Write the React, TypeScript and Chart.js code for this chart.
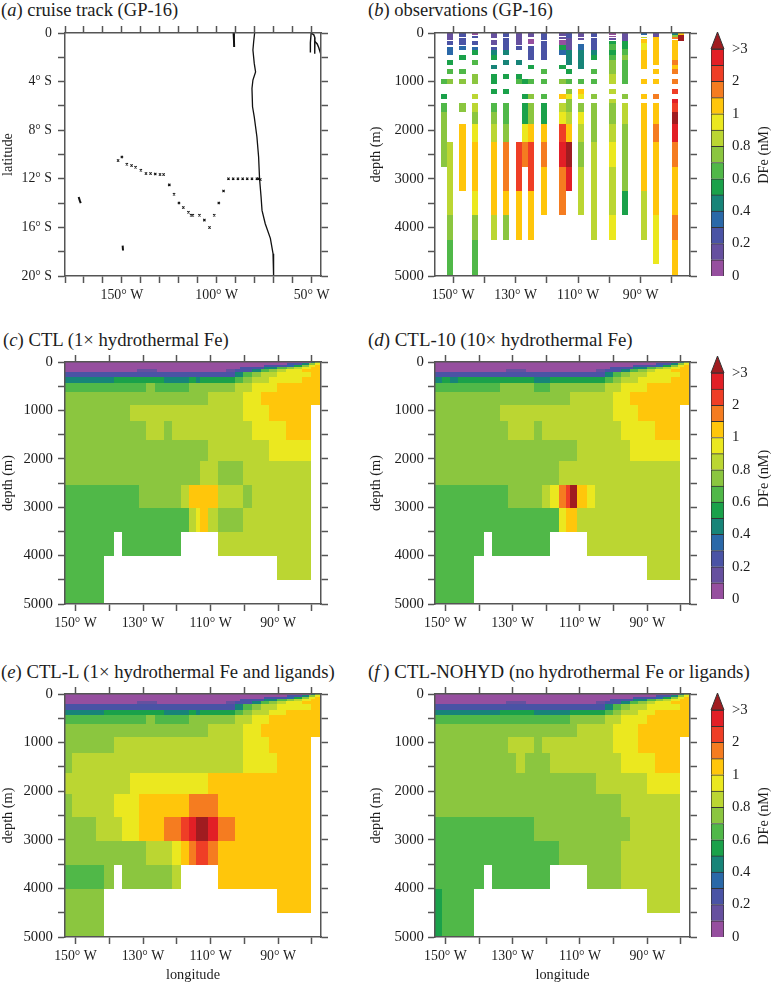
import React, { useEffect, useRef } from "react";
import { Chart, registerables } from "chart.js";

Chart.register(...registerables);

const FONT = "'Liberation Serif', serif";
const AXIS = "#555555";
const INK = "#1c1c1c";

// ---------- colour key ----------
const levelColors = [
  "#964f9f", "#66509f", "#4a53a5", "#2a68a8", "#178478", "#1aa14a", "#50b848", "#8bc63f",
  "#bbd632", "#ebe81f", "#ffc60b", "#f57c20", "#ef3e26", "#e21f26", "#a01c20",
];
const keyTickBands = [0, 2, 4, 6, 8, 10, 12, 14];
const keyTickLabels = ["0", "0.2", "0.4", "0.6", "0.8", "1", "2", ">3"];

// ---------- panel a: cruise track ----------
const stationLon = [152, 150, 147.4, 144.9, 142.8, 140, 137.3, 134.9, 132.4, 129.9, 128, 125, 122.5, 119.9, 117.6, 114.9, 113.5, 112.6, 109.1, 106.5, 103.8, 101.3, 98.9, 96.4, 93.8, 91.3, 88.8, 86.3, 83.9, 81.4, 78.8, 77.9, 77];
const stationLat = [10.5, 10.2, 10.8, 10.9, 11.05, 11.3, 11.57, 11.57, 11.6, 11.65, 11.65, 12.5, 13.27, 14, 14.37, 14.75, 15, 15, 15, 15.4, 16, 15, 14, 13, 12, 12, 12, 12, 12, 12, 12, 12, 12.05];
const coastLon = [80, 80.5, 80.9, 80.2, 79.5, 80.9, 81.4, 81.1, 80.2, 78.8, 77.9, 77.4, 76.6, 76.1, 74.4, 71.7, 70.3, 70];
const coastLat = [0, 0.7, 1.4, 2.5, 3.2, 3.87, 4.56, 6.07, 6.9, 8.54, 10.2, 12, 13.5, 14.6, 15.7, 16.9, 18.16, 20];
const islandTracks = [
  [[91.1, 0], [90.9, 0.6], [90.8, 1.15]],
  [[172.8, 13.5], [172.2, 13.8], [171.7, 14]],
  [[149.6, 17.5], [149.4, 17.9]],
  [[50.2, 0], [50.6, 0.8], [50.6, 1.6]],
  [[50.2, 0], [48.8, 0.15], [48.2, 0.4], [48.3, 1.7]],
  [[48.2, 0.7], [47, 0.9], [46.2, 1.2], [45, 1.8]],
];

// ---------- model panels: runs of [west-to-east end longitude, level]; -1 is sea floor ----------
const modelDepthEdges = [0, 30, 60, 100, 150, 210, 320, 430, 620, 880, 1220, 1620, 2050, 2535, 3015, 3510, 4010, 4510, 5000];
const surfaceRuns = [
  [[80.3, 0], [79, 4], [77.3, 7]],
  [[87.4, 0], [82.9, 2], [81, 4], [79, 7], [77.3, 9]],
  [[94.3, 0], [87.4, 2], [85.3, 3], [82.9, 5], [81, 7], [79, 9], [77.3, 10]],
  [[101.2, 0], [94.3, 2], [90.2, 4], [87.4, 6], [85.3, 7], [82.9, 8], [80.3, 9], [77.3, 10]],
  [[131.9, 0], [126, 1], [105.3, 0], [102.7, 1], [97.8, 2], [95.2, 4], [92.7, 6], [90.2, 7], [87.7, 8], [82.9, 9], [77.3, 10]],
  [[102.7, 2], [100.3, 4], [97.8, 6], [95.2, 7], [90.2, 8], [80.3, 9], [77.3, 10]],
];
const ctlRuns = [
  [[138.5, 4], [123.8, 5], [116.3, 4], [114.3, 5], [113.1, 4], [102.7, 5], [100.3, 6], [97.8, 7], [92.7, 8], [82.9, 9], [77.3, 10]],
  [[129.2, 6], [126.5, 7], [116.3, 6], [102.7, 7], [97.8, 8], [90.2, 9], [77.3, 10]],
  [[110.9, 7], [100.3, 8], [95.2, 9], [77.3, 10]],
  [[133.8, 7], [100.3, 8], [92.7, 9], [80.3, 10], [77.3, -1]],
  [[129.2, 7], [123.8, 8], [121.3, 7], [97.8, 8], [87.7, 9], [80.3, 10], [77.3, -1]],
  [[110.9, 7], [92.7, 8], [80.3, 9], [77.3, -1]],
  [[113.1, 7], [107.9, 8], [100.3, 7], [80.3, 8], [77.3, -1]],
  [[131.3, 6], [118.8, 7], [116.3, 8], [107.9, 10], [100.3, 8], [97.8, 7], [80.3, 8], [77.3, -1]],
  [[116.3, 6], [114.3, 8], [113.1, 9], [110.9, 10], [107.9, 8], [100.3, 7], [80.3, 8], [77.3, -1]],
  [[138.5, 6], [136.1, -1], [118.8, 6], [107.9, -1], [80.3, 8], [77.3, -1]],
  [[141.5, 6], [90.2, -1], [80.3, 8], [77.3, -1]],
  [[141.5, 6], [77.3, -1]],
];
const ctl10Runs = [
  [[151.1, 4], [148.6, 5], [146.2, 4], [123.8, 5], [119, 4], [102.7, 5], [100.3, 6], [97.8, 7], [92.7, 8], [82.9, 9], [77.3, 10]],
  [[133.8, 6], [123.8, 7], [118.8, 6], [102.7, 7], [97.8, 8], [90.2, 9], [77.3, 10]],
  [[113.1, 7], [100.3, 8], [95.2, 9], [77.3, 10]],
  [[133.8, 7], [100.3, 8], [92.7, 9], [80.3, 10], [77.3, -1]],
  [[131.3, 7], [123.8, 8], [121.3, 7], [97.8, 8], [87.7, 9], [80.3, 10], [77.3, -1]],
  [[110.9, 7], [95.2, 8], [80.3, 9], [77.3, -1]],
  [[116.3, 7], [80.3, 8], [77.3, -1]],
  [[131.3, 6], [121.2, 7], [118.8, 8], [116.3, 9], [114.2, 11], [113, 12], [111, 14], [107.9, 10], [105.4, 9], [80.3, 8], [77.3, -1]],
  [[116.3, 6], [114.3, 9], [110.9, 10], [80.3, 8], [77.3, -1]],
  [[138.5, 6], [136.1, -1], [118.8, 6], [107.9, -1], [80.3, 8], [77.3, -1]],
  [[141.5, 6], [90.2, -1], [80.3, 8], [77.3, -1]],
  [[141.5, 6], [77.3, -1]],
];
const ctlLRuns = [
  [[141.5, 4], [123.8, 5], [116.3, 4], [114.3, 5], [113.1, 4], [102.7, 5], [100.3, 6], [97.8, 7], [92.7, 8], [87.7, 9], [77.3, 10]],
  [[129.2, 6], [126.5, 7], [116.3, 6], [102.7, 7], [97.8, 8], [92.7, 9], [77.3, 10]],
  [[110.9, 7], [100.3, 8], [95.2, 9], [77.3, 10]],
  [[138.5, 7], [100.3, 8], [92.7, 9], [80.3, 10], [77.3, -1]],
  [[151.1, 7], [100.3, 8], [90.2, 9], [80.3, 10], [77.3, -1]],
  [[133.8, 8], [110.9, 9], [80.3, 10], [77.3, -1]],
  [[151.1, 7], [138.5, 8], [131.3, 9], [116.3, 10], [107.9, 11], [80.3, 10], [77.3, -1]],
  [[144, 7], [136.1, 8], [131.3, 9], [123.8, 10], [118.8, 11], [116.3, 12], [114.3, 13], [110.9, 14], [107.9, 13], [102.7, 11], [80.3, 10], [77.3, -1]],
  [[129.2, 7], [121.3, 8], [118.8, 9], [116.3, 10], [114.3, 11], [110.9, 12], [107.9, 11], [80.3, 10], [77.3, -1]],
  [[141.5, 6], [138.5, 7], [136.1, -1], [121.3, 7], [118.8, 8], [107.9, -1], [80.3, 10], [77.3, -1]],
  [[141.5, 7], [90.2, -1], [80.3, 10], [77.3, -1]],
  [[141.5, 7], [77.3, -1]],
];
const nohydRuns = [
  [[133.8, 4], [123.8, 5], [113.1, 4], [102.7, 5], [100.3, 6], [97.8, 7], [92.7, 8], [87.7, 9], [77.3, 10]],
  [[113.1, 6], [102.7, 7], [97.8, 8], [90.2, 9], [77.3, 10]],
  [[110.9, 7], [100.3, 8], [92.7, 9], [77.3, 10]],
  [[131.3, 7], [123.8, 8], [121.3, 7], [100.3, 8], [92.7, 9], [80.3, 10], [77.3, -1]],
  [[128.9, 7], [126.4, 8], [118.8, 7], [97.8, 8], [87.7, 9], [80.3, 10], [77.3, -1]],
  [[105.3, 7], [90.2, 8], [80.3, 9], [77.3, -1]],
  [[97.8, 7], [80.3, 8], [77.3, -1]],
  [[123.8, 6], [95.2, 7], [80.3, 8], [77.3, -1]],
  [[116.3, 6], [97.8, 7], [80.3, 8], [77.3, -1]],
  [[138.5, 6], [136.1, -1], [118.8, 6], [107.9, -1], [97.8, 7], [80.3, 8], [77.3, -1]],
  [[151.1, 5], [141.5, 6], [90.2, -1], [80.3, 8], [77.3, -1]],
  [[151.1, 5], [141.5, 6], [77.3, -1]],
];

// ---------- panel b: observed bottles, segments of [top, bottom, level] per 2-degree station ----------
const obsLon = [153, 151, 147, 143, 137, 133, 129, 127, 125, 121, 115, 113, 109, 105, 99, 95, 89, 85, 79, 77];
const obsSegments = [
  [[950, 1050, 6], [1250, 1350, 5], [1450, 1625, 6], [1625, 2750, 7]],
  [[10, 145, 1], [170, 240, 2], [280, 450, 3], [550, 650, 5], [750, 850, 6], [950, 1050, 7], [2250, 3750, 8], [3750, 4250, 7], [4250, 5000, 6]],
  [[10, 90, 2], [110, 240, 2], [270, 350, 3], [450, 550, 5], [750, 850, 6], [950, 1050, 7], [1450, 1625, 7], [1875, 3250, 10]],
  [[10, 40, 0], [60, 100, 2], [160, 240, 2], [280, 350, 3], [350, 450, 5], [550, 650, 6], [850, 1050, 7], [1250, 1350, 8], [1450, 1625, 8], [1625, 1875, 7], [1875, 2250, 9], [2250, 3250, 10], [3250, 3750, 9], [3750, 4250, 7], [4250, 5000, 6]],
  [[10, 100, 1], [140, 240, 1], [280, 350, 2], [350, 450, 4], [450, 550, 5], [650, 750, 4], [850, 1050, 5], [1150, 1250, 5], [1450, 1625, 6], [1625, 1875, 7], [1875, 2250, 8], [2250, 3750, 10], [3750, 4250, 8]],
  [[10, 90, 2], [110, 350, 2], [350, 450, 4], [550, 650, 4], [850, 950, 5], [1150, 1250, 5], [1450, 1875, 6], [1875, 2250, 7], [2250, 3250, 11], [3250, 3750, 10], [3750, 4250, 7]],
  [[10, 145, 1], [145, 240, 1], [270, 350, 2], [550, 650, 4], [850, 950, 5], [950, 1050, 6], [2250, 3250, 12], [3250, 4250, 10]],
  [[950, 1050, 5], [1250, 1350, 5], [1450, 1875, 5], [1875, 2250, 9], [2250, 2750, 11]],
  [[10, 75, 1], [130, 225, 0], [270, 550, 2], [650, 750, 5], [950, 1050, 6], [1250, 1350, 7], [1450, 1875, 7], [1875, 2250, 10], [2250, 3250, 12], [3250, 4250, 10]],
  [[10, 145, 2], [170, 550, 2], [750, 850, 6], [950, 1050, 6], [1250, 1350, 6], [1450, 1875, 5], [1875, 2250, 10], [2250, 2750, 11], [2750, 3750, 10]],
  [[10, 60, 1], [75, 130, 1], [145, 240, 0], [240, 350, 5], [350, 450, 3], [650, 750, 5], [950, 1050, 7], [1250, 1350, 10], [1450, 1625, 8], [1625, 1875, 9], [1875, 2250, 12], [2250, 2750, 13], [2750, 3750, 11]],
  [[10, 100, 2], [100, 350, 1], [350, 450, 4], [450, 650, 4], [750, 850, 5], [950, 1050, 6], [1150, 1250, 7], [1250, 1350, 9], [1350, 1625, 7], [1625, 1875, 8], [1875, 2250, 10], [2250, 2750, 14], [2750, 3250, 13]],
  [[10, 90, 1], [110, 145, 1], [225, 350, 3], [350, 750, 4], [950, 1050, 6], [1150, 1250, 10], [1250, 1350, 9], [1450, 1625, 7], [1625, 1875, 9], [1875, 2250, 8], [2250, 2750, 7], [2750, 3750, 8]],
  [[10, 90, 2], [110, 350, 2], [350, 450, 4], [450, 550, 5], [750, 850, 6], [950, 1050, 6], [1250, 1350, 7], [1450, 2250, 7], [2250, 4250, 8]],
  [[10, 40, 0], [60, 90, 0], [110, 150, 1], [170, 220, 5], [220, 350, 6], [350, 450, 5], [450, 550, 6], [550, 850, 7], [850, 1050, 8], [1150, 1250, 8], [1350, 1450, 8], [1450, 1875, 7], [1875, 2250, 8], [2250, 2750, 9], [2750, 3750, 8], [3750, 4250, 9]],
  [[10, 170, 1], [170, 320, 5], [320, 450, 6], [450, 550, 7], [550, 1050, 6], [1250, 1350, 7], [1450, 1875, 8], [1875, 3250, 7], [3250, 3750, 5]],
  [[10, 45, 3], [75, 110, 8], [130, 210, 10], [210, 350, 9], [350, 750, 10], [950, 1050, 10], [1250, 1350, 10], [1450, 3250, 10], [3250, 4250, 8]],
  [[10, 75, 1], [90, 650, 10], [750, 850, 10], [950, 1050, 10], [1250, 1350, 11], [1450, 1875, 10], [1875, 2250, 11], [2250, 3750, 10], [3750, 4750, 9]],
  [[10, 40, 4], [40, 75, 7], [90, 130, 11], [145, 550, 10], [550, 650, 11], [650, 750, 10], [750, 850, 11], [950, 1050, 11], [1150, 1250, 12], [1350, 1450, 13], [1450, 1625, 12], [1625, 1875, 14], [1875, 2250, 13], [2250, 2750, 11], [2750, 3750, 10], [3750, 4250, 11], [4250, 5000, 10]],
  [[10, 35, 10], [35, 160, 14]],
];

// ---------- tick lists ----------
const latTicks = [0, 2, 4, 6, 8, 10, 12, 14, 16, 18, 20];
const latLabels = [0, 4, 8, 12, 16, 20];
const mapLonTicks = [180, 170, 160, 150, 140, 130, 120, 110, 100, 90, 80, 70, 60, 50];
const mapLonLabels = [150, 100, 50];
const sectionLonTicks = [150, 140, 130, 120, 110, 100, 90, 80];
const sectionLonLabels = [150, 130, 110, 90];
const depthTicks = [0, 500, 1000, 1500, 2000, 2500, 3000, 3500, 4000, 4500, 5000];
const depthLabels = [0, 1000, 2000, 3000, 4000, 5000];

function modelCells(runs: number[][][]) {
  const all = [...surfaceRuns, ...runs];
  const cells: any[] = [];
  all.forEach((row, i) => {
    let west = 153.1;
    row.forEach(([east, level]) => {
      if (level >= 0) cells.push({ x: (west + east) / 2, y: modelDepthEdges[i], x1: west, x2: east, y1: modelDepthEdges[i], y2: modelDepthEdges[i + 1], level });
      west = east;
    });
  });
  return cells;
}

function obsCells() {
  const cells: any[] = [];
  obsLon.forEach((lon, i) => {
    obsSegments[i].forEach(([top, bottom, level]) => {
      cells.push({ x: lon, y: top, x1: lon + 1, x2: lon - 1, y1: top, y2: bottom, level });
    });
  });
  return cells;
}

const cellPlugin = {
  id: "cells",
  beforeDatasetsDraw(chart: any) {
    const { ctx, scales, chartArea } = chart;
    ctx.save();
    ctx.beginPath();
    ctx.rect(chartArea.left, chartArea.top, chartArea.width, chartArea.height);
    ctx.clip();
    chart.data.datasets.forEach((ds: any) => {
      if (!ds.isCells) return;
      ds.data.forEach((c: any) => {
        const x0 = Math.round(scales.x.getPixelForValue(c.x1));
        const x1 = Math.round(scales.x.getPixelForValue(c.x2));
        const y0 = Math.round(scales.y.getPixelForValue(c.y1));
        const y1 = Math.round(scales.y.getPixelForValue(c.y2));
        ctx.fillStyle = levelColors[c.level];
        ctx.fillRect(x0, y0, x1 - x0, y1 - y0);
      });
    });
    ctx.restore();
  },
};

function setTicks(values: number[]) {
  return (s: any) => {
    s.ticks = values.map((value) => ({ value }));
  };
}

function sideAxis(position: string, min: number, max: number, reverse: boolean, ticks: number[], size: number) {
  return {
    type: "linear",
    position,
    min,
    max,
    reverse,
    afterBuildTicks: setTicks(ticks),
    afterFit(s: any) {
      if (position === "top" || position === "bottom") s.height = size;
      else s.width = size;
    },
    border: { display: true, color: AXIS, width: 1.5, z: 1 },
    grid: { drawOnChartArea: false, drawTicks: true, tickLength: 7, tickColor: AXIS, tickWidth: 1.5 },
    ticks: { display: false, autoSkip: false },
  };
}

function labelled(axis: any, labels: number[], fmt: (v: number) => string, padding: number, size: number) {
  return {
    ...axis,
    ticks: {
      display: true,
      autoSkip: false,
      maxRotation: 0,
      padding,
      color: INK,
      font: { family: FONT, size },
      callback: (v: number) => (labels.includes(v) ? fmt(v) : ""),
    },
  };
}

function titleOf(axis: any, text: string) {
  return { ...axis, title: { display: true, text, color: INK, font: { family: FONT, size: 14.3 }, padding: 0 } };
}

const wFmt = (v: number) => `${v}° W`;

function usePanel(build: () => any) {
  const ref = useRef<HTMLCanvasElement | null>(null);
  useEffect(() => {
    const chart = new Chart(ref.current as any, build());
    return () => chart.destroy();
  }, []);
  return ref;
}

function Panel({ cfg, left, top, width, height }: any) {
  const ref = usePanel(cfg);
  return <canvas ref={ref} width={width} height={height} style={{ position: "absolute", left, top, width, height }} />;
}

function sectionConfig(cells: any[], P: any) {
  return () => ({
    type: "scatter",
    data: { datasets: [{ isCells: true, data: cells, pointRadius: 0, showLine: false }] },
    plugins: [cellPlugin],
    options: {
      animation: false,
      responsive: false,
      layout: { padding: 0 },
      plugins: { legend: { display: false }, tooltip: { enabled: false } },
      scales: {
        x: (() => {
          const a = labelled(sideAxis("bottom", P.lonMin, P.lonMax, true, sectionLonTicks, P.bottom), sectionLonLabels, wFmt, 4, 13.8);
          return P.xTitle ? titleOf(a, "longitude") : a;
        })(),
        x2: sideAxis("top", P.lonMin, P.lonMax, true, sectionLonTicks, P.top),
        y: titleOf(
          labelled(sideAxis("left", 0, 5000, true, depthTicks, P.left), depthLabels, (v) => String(v), P.yPad, 14.8),
          "depth (m)"
        ),
        y2: sideAxis("right", 0, 5000, true, depthTicks, P.right),
      },
    },
  });
}

function mapConfig() {
  const lineStyle = { showLine: true, pointRadius: 0, borderColor: "#111111", borderWidth: 1.3, tension: 0 };
  return {
    type: "scatter",
    data: {
      datasets: [
        {
          label: "stations",
          data: stationLon.map((x, i) => ({ x, y: stationLat[i] })),
          pointStyle: "crossRot",
          pointRadius: 1.6,
          borderColor: "#111111",
          borderWidth: 1.1,
          showLine: false,
        },
        { label: "coast", data: coastLon.map((x, i) => ({ x, y: coastLat[i] })), ...lineStyle },
        ...islandTracks.map((t, i) => ({ label: `island ${i}`, data: t.map(([x, y]) => ({ x, y })), ...lineStyle, borderWidth: i < 3 ? 2 : 1.4 })),
      ],
    },
    options: {
      animation: false,
      responsive: false,
      layout: { padding: 0 },
      plugins: { legend: { display: false }, tooltip: { enabled: false } },
      scales: {
        x: labelled(sideAxis("bottom", 45, 180, true, mapLonTicks, 35), mapLonLabels, wFmt, 4, 13.8),
        x2: sideAxis("top", 45, 180, true, mapLonTicks, 18),
        y: titleOf(
          labelled(sideAxis("left", 0, 20, true, latTicks, 65), latLabels, (v) => (v === 0 ? "0" : `${v}° S`), 6, 13.8),
          "latitude"
        ),
        y2: sideAxis("right", 0, 20, true, latTicks, 30),
      },
    },
  };
}

const keyPlugin = {
  id: "key",
  afterDatasetsDraw(chart: any) {
    const { ctx, chartArea, scales } = chart;
    const y14 = scales.y.getPixelForValue(14);
    ctx.save();
    ctx.fillStyle = levelColors[14];
    ctx.strokeStyle = "#333333";
    ctx.lineWidth = 1;
    ctx.beginPath();
    ctx.moveTo(chartArea.left, y14);
    ctx.lineTo((chartArea.left + chartArea.right) / 2, chartArea.top);
    ctx.lineTo(chartArea.right, y14);
    ctx.closePath();
    ctx.fill();
    ctx.stroke();
    ctx.translate(64, (chartArea.top + chartArea.bottom) / 2 + 1);
    ctx.rotate(-Math.PI / 2);
    ctx.fillStyle = INK;
    ctx.font = `14.3px ${FONT}`;
    ctx.textAlign = "center";
    ctx.textBaseline = "middle";
    ctx.fillText("DFe (nM)", 0, 0);
    ctx.restore();
  },
};

function keyConfig() {
  return {
    type: "bar",
    data: {
      labels: ["DFe"],
      datasets: levelColors.slice(0, 14).map((c, i) => ({
        label: String(i),
        data: [[i, i + 1]],
        backgroundColor: c,
        borderColor: "#333333",
        borderWidth: 1,
        grouped: false,
        barPercentage: 1,
        categoryPercentage: 1,
      })),
    },
    plugins: [keyPlugin],
    options: {
      animation: false,
      responsive: false,
      layout: { padding: { top: 3, bottom: 12, left: 11 } },
      plugins: { legend: { display: false }, tooltip: { enabled: false } },
      scales: {
        x: { display: false },
        y: {
          type: "linear",
          position: "right",
          min: 0,
          max: 15.05,
          afterBuildTicks: setTicks(keyTickBands),
          afterFit(s: any) {
            s.width = 47;
            s.paddingTop = 0;
            s.paddingBottom = 0;
            s.paddingLeft = 0;
            s.paddingRight = 0;
          },
          border: { display: false },
          grid: { display: false, drawTicks: false },
          ticks: {
            autoSkip: false,
            padding: 8,
            color: INK,
            font: { family: FONT, size: 14.8 },
            callback: (v: number) => keyTickLabels[keyTickBands.indexOf(v)],
          },
        },
      },
    },
  };
}

function Title({ left, top, letter, text, size }: any) {
  return (
    <div
      style={{
        position: "absolute",
        left,
        top,
        fontFamily: FONT,
        fontSize: size,
        lineHeight: "22px",
        color: INK,
        whiteSpace: "nowrap",
      }}
    >
      (<i>{letter}</i>
      {letter === "f" ? "\u2009" : ""}) {text}
    </div>
  );
}

const secLeft = { lonMin: 77.3, lonMax: 153.1, left: 65, right: 30, yPad: 5 };
const secRight = { lonMin: 77.3, lonMax: 153.1, left: 67, right: 30, yPad: 4 };

export default function App() {
  return (
    <div style={{ position: "fixed", left: 0, top: 0, width: 771, height: 984, background: "#fff", overflow: "hidden" }}>
      <Title left={1} top={-1} size={18.5} letter="a" text="cruise track (GP-16)" />
      <Title left={368} top={-1} size={18.5} letter="b" text="observations (GP-16)" />
      <Title left={3} top={329} size={18.7} letter="c" text="CTL (1× hydrothermal Fe)" />
      <Title left={368} top={329} size={18.9} letter="d" text="CTL-10 (10× hydrothermal Fe)" />
      <Title left={1} top={661} size={18.7} letter="e" text="CTL-L (1× hydrothermal Fe and ligands)" />
      <Title left={368} top={661} size={18.85} letter="f" text="CTL-NOHYD (no hydrothermal Fe or ligands)" />

      <Panel cfg={mapConfig} left={0} top={15} width={351} height={296} />
      <Panel
        cfg={sectionConfig(obsCells(), { ...secRight, lonMin: 74.2, lonMax: 155.8, top: 18, bottom: 35 })}
        left={368}
        top={15}
        width={352}
        height={296}
      />
      <Panel cfg={sectionConfig(modelCells(ctlRuns), { ...secLeft, top: 20, bottom: 35 })} left={0} top={342} width={351} height={297} />
      <Panel cfg={sectionConfig(modelCells(ctl10Runs), { ...secRight, lonMin: 77.3, lonMax: 153.1, top: 20, bottom: 35 })} left={368} top={342} width={352} height={297} />
      <Panel cfg={sectionConfig(modelCells(ctlLRuns), { ...secLeft, top: 20, bottom: 47, xTitle: true })} left={0} top={674} width={351} height={310} />
      <Panel cfg={sectionConfig(modelCells(nohydRuns), { ...secRight, top: 20, bottom: 47, xTitle: true })} left={368} top={674} width={352} height={310} />

      <Panel cfg={keyConfig} left={700} top={29} width={71} height={259} />
      <Panel cfg={keyConfig} left={700} top={353} width={71} height={258} />
      <Panel cfg={keyConfig} left={700} top={690} width={71} height={259} />
    </div>
  );
}
